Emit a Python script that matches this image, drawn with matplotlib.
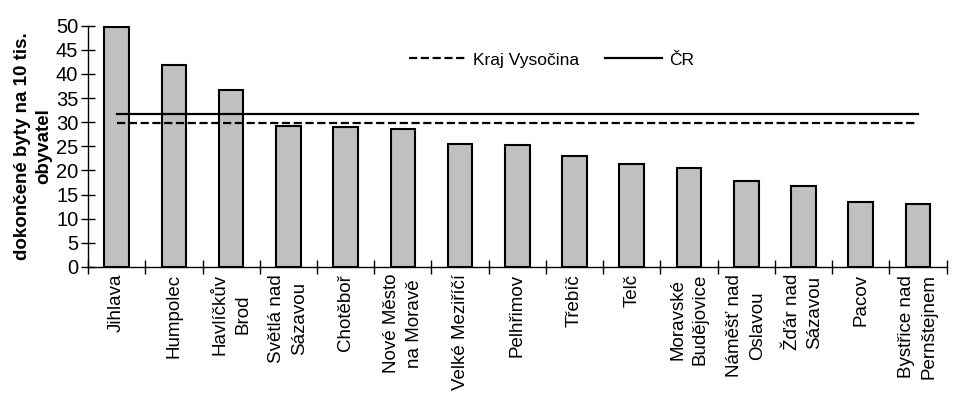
import numpy as np
import matplotlib
matplotlib.use("Agg")
import matplotlib.pyplot as plt

plt.rcParams["font.family"] = ["Liberation Sans", "DejaVu Sans"]

towns = ["Jihlava", "Humpolec", "Havlíčkův\nBrod", "Světlá nad\nSázavou",
         "Chotěboř", "Nové Město\nna Moravě", "Velké Meziříčí", "Pelhřimov",
         "Třebíč", "Telč", "Moravské\nBudějovice", "Náměšť nad\nOslavou",
         "Žďár nad\nSázavou", "Pacov", "Bystřice nad\nPernštejnem"]
values = [49.8, 41.9, 36.6, 29.2, 29.0, 28.6, 25.5, 25.3,
          23.0, 21.4, 20.5, 17.8, 16.8, 13.5, 13.1]
kraj = 29.8
cr = 31.7

x = np.arange(len(towns))

fig = plt.figure(figsize=(9.61, 4.0), dpi=100)
ax = fig.add_axes([0.0916, 0.3325, 0.8934, 0.6033])

ax.bar(x, values, width=0.43, color="#c0c0c0", edgecolor="black", lw=1.5, zorder=2)
ax.plot(x, [kraj] * len(x), "k--", lw=1.6, label="Kraj Vysočina", zorder=3)
ax.plot(x, [cr] * len(x), "k-", lw=1.6, label="ČR", zorder=3)

ax.set_xlim(-0.5, len(towns) - 0.5)
ax.set_ylim(0, 50)
ax.set_yticks(range(0, 51, 5))
ax.set_xticks(np.arange(len(towns) + 1) - 0.5)
ax.set_xticklabels([])
ax.set_xticks(x, minor=True)
ax.set_xticklabels(towns, minor=True, rotation=90, fontsize=13.5,
                   ha="center", va="top", multialignment="center",
                   linespacing=1.45)
ax.tick_params(axis="x", which="minor", length=0, pad=5)
ax.tick_params(axis="x", which="major", direction="inout", length=10, width=1)
ax.tick_params(axis="y", direction="inout", length=10, width=1, labelsize=14.5, pad=2)

for s in ("top", "right"):
    ax.spines[s].set_visible(False)
ax.spines["left"].set_linewidth(1)
ax.spines["bottom"].set_linewidth(1)

ax.set_ylabel("dokončené byty na 10 tis.\nobyvatel", fontsize=13.5,
              fontweight="bold", labelpad=3, linespacing=1.3)

ax.legend(loc="center", bbox_to_anchor=(0.574, 0.85), bbox_transform=fig.transFigure,
          ncol=2, frameon=False, fontsize=12.5, handlelength=3.3,
          columnspacing=1.5, handletextpad=0.4)

fig.savefig("out.png", dpi=100)
